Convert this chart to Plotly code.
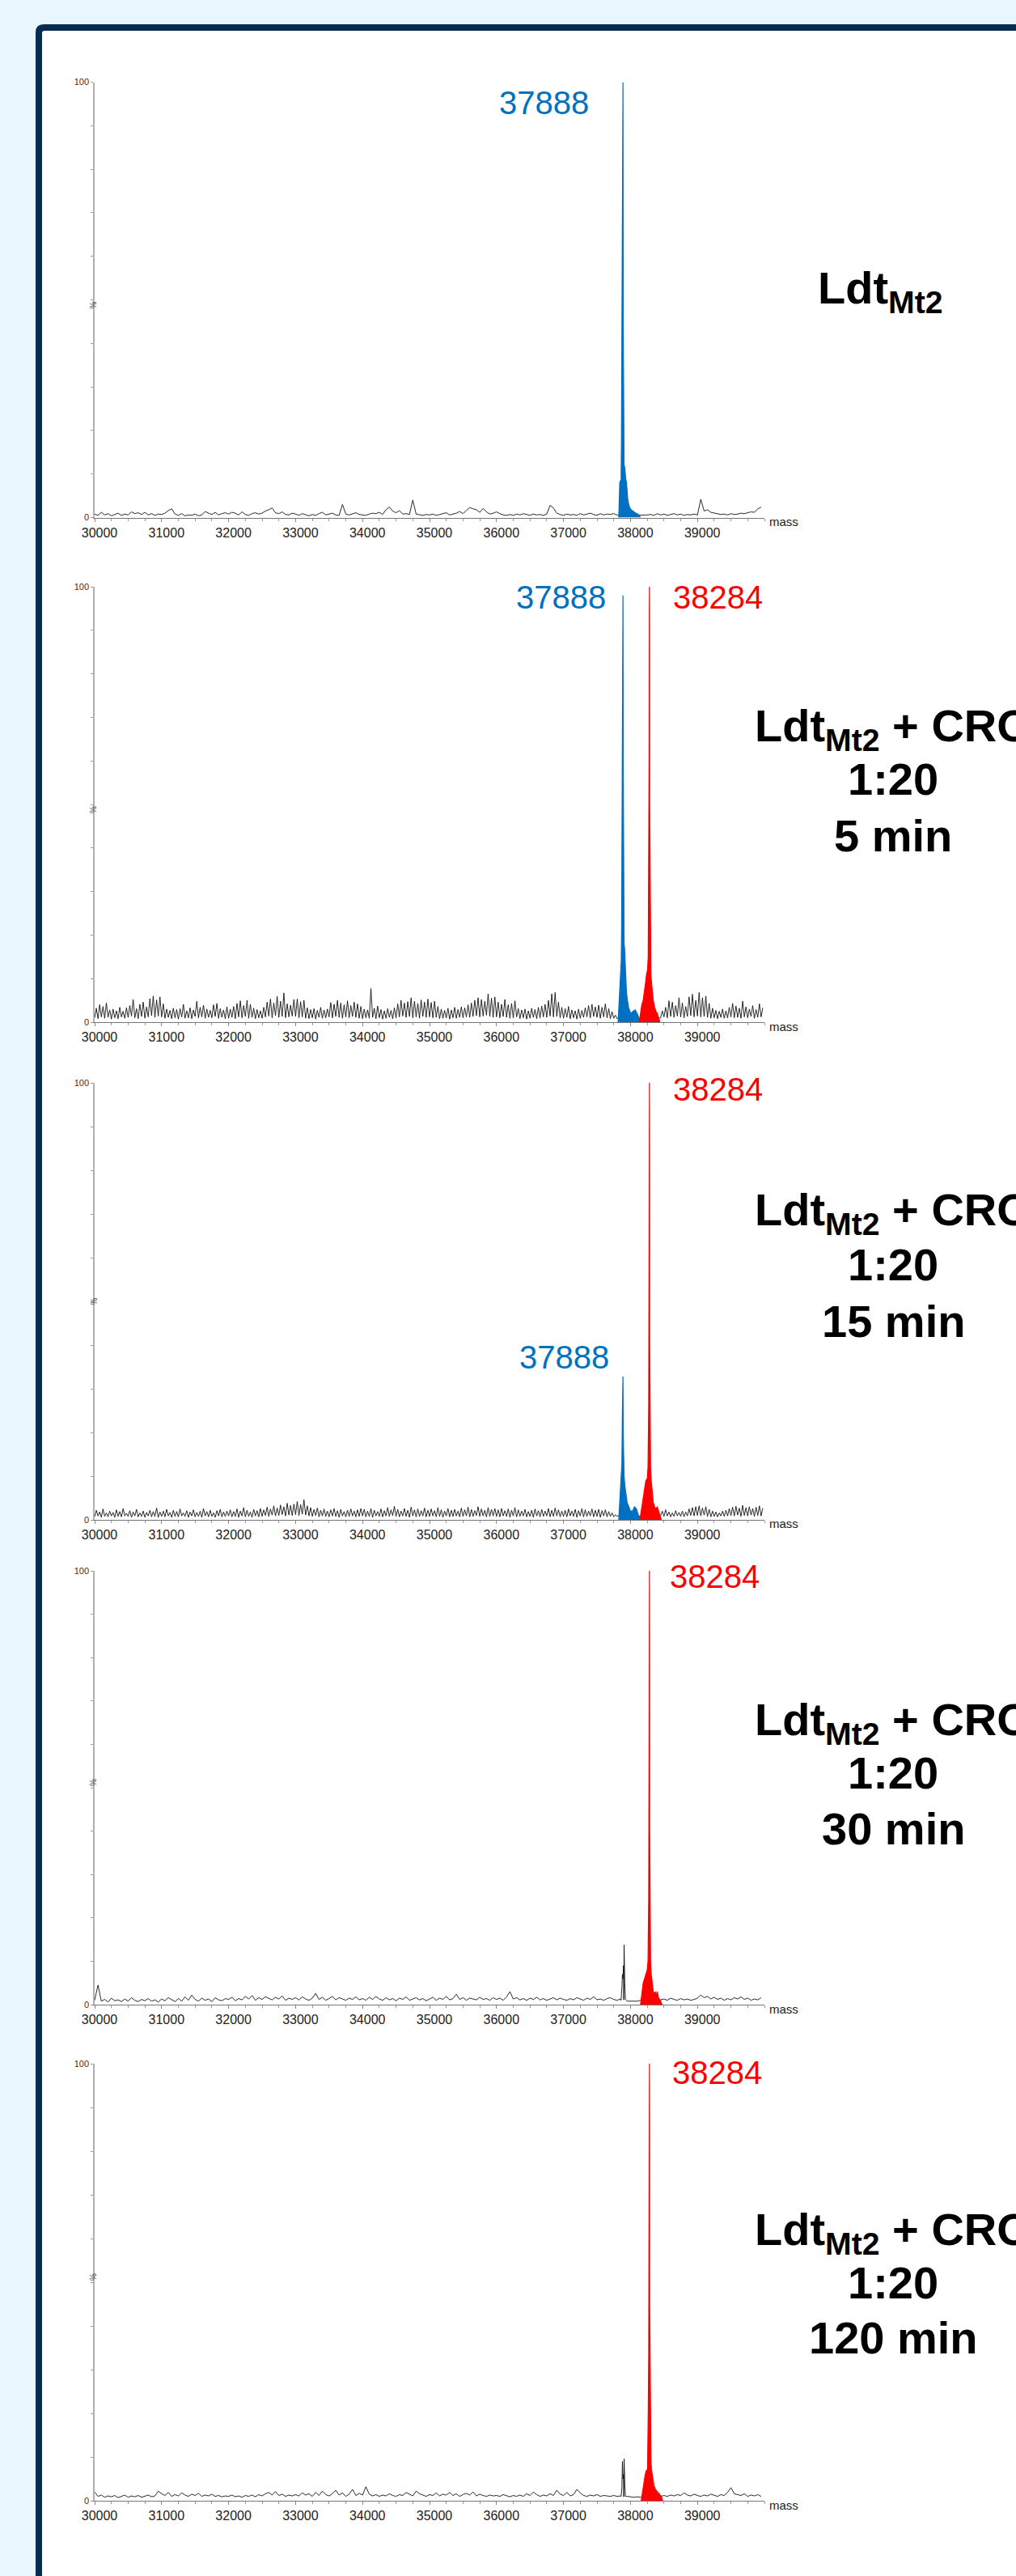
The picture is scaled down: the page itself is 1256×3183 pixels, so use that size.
import plotly.graph_objects as go

# ------------------------------------------------------------------
# DATA
# ------------------------------------------------------------------
NOISE_START = 30000          # first mass of every baseline-noise grid (Da)

x_tick_values = [30000, 31000, 32000, 33000, 34000, 35000, 36000, 37000, 38000, 39000]
x_tick_labels = ["30000", "31000", "32000", "33000", "34000", "35000", "36000", "37000", "38000", "39000"]

# baseline noise (% intensity); panels 1,4,5 one value per 50 Da, panels 2,3 per 25 Da
noise_step_p1 = 50
noise_p1 = [0.8,0.5,1.2,0.6,0.9,0.4,0.7,1.0,0.5,0.8,0.6,1.3,0.9,1.1,0.7,1.2,0.6,0.9,0.5,0.8,
            0.7,1.0,1.6,2.0,0.8,0.5,0.9,0.4,0.6,0.5,0.8,0.4,0.6,1.4,1.0,0.7,1.2,0.6,0.9,1.1,
            0.8,1.2,1.0,0.6,1.3,0.7,0.5,0.9,1.1,0.8,1.0,1.5,1.8,2.2,1.1,0.9,1.3,0.7,0.6,1.0,
            0.8,0.5,0.9,0.6,0.4,0.7,0.5,0.9,1.2,0.6,0.8,1.0,0.6,0.5,3.0,0.8,0.6,0.9,1.1,0.7,
            0.6,0.5,0.8,1.0,0.9,1.2,0.7,1.8,2.4,1.5,1.1,1.6,0.8,0.9,0.7,4.0,0.8,0.6,0.5,0.7,
            0.6,0.8,0.5,0.7,0.9,1.1,0.6,0.8,1.0,1.4,0.9,1.6,2.3,2.0,1.8,1.2,2.1,1.3,0.8,1.0,
            1.3,0.9,0.6,0.5,0.7,0.5,0.8,0.6,0.9,0.7,0.5,0.8,0.6,0.7,0.5,0.8,2.8,2.2,1.0,0.7,
            0.5,0.8,0.6,0.7,0.5,0.9,0.6,0.8,1.0,0.7,0.5,0.9,0.6,0.8,0.7,0.9,0.6,0.5,0.6,0.5,
            0.5,0.6,0.5,0.6,0.5,0.6,0.7,0.5,0.9,0.6,0.8,0.5,0.7,0.9,0.6,0.8,0.5,0.7,0.6,0.8,
            0.6,4.2,1.5,1.8,1.2,1.0,0.9,0.7,0.8,0.6,0.9,0.7,0.8,1.0,0.9,1.1,1.3,1.2,2.0,2.4]

noise_step_p2 = 25
noise_p2 = [1.0,3.2,0.8,4.0,1.2,3.6,0.9,4.4,1.1,2.8,
            0.7,3.0,1.0,2.6,0.8,3.4,1.2,2.5,0.9,3.3,
            1.1,3.8,1.4,5.2,1.0,3.1,0.8,4.1,1.3,4.6,
            0.9,3.5,1.2,5.4,1.5,6.0,1.1,5.1,1.4,5.8,
            1.2,4.2,0.9,3.0,1.1,2.7,0.8,3.2,1.0,2.9,
            0.7,3.1,1.2,4.1,0.9,2.6,1.0,3.3,0.8,2.8,
            1.3,4.8,1.0,3.4,1.2,3.9,0.9,3.0,1.1,2.7,
            1.0,4.0,1.3,4.3,0.9,3.1,1.1,2.8,0.8,3.5,
            0.9,3.0,1.1,3.6,0.8,4.3,1.2,4.9,1.0,3.8,
            1.3,5.0,0.9,4.1,1.1,3.2,0.8,2.9,1.0,2.6,
            0.9,3.4,1.2,4.6,1.4,5.3,1.0,4.4,1.5,5.9,
            1.1,4.8,1.3,6.7,1.0,4.2,1.2,3.9,1.4,5.2,
            1.3,5.3,1.0,4.7,1.2,5.0,0.9,3.3,0.8,2.9,
            1.0,3.1,0.7,2.7,1.1,3.4,0.9,2.8,1.0,3.0,
            1.2,4.5,1.0,4.1,1.3,5.0,1.1,4.4,0.9,4.0,
            1.2,4.9,1.0,3.8,1.3,4.6,1.1,4.2,0.9,3.6,
            0.8,3.0,1.0,2.8,0.9,7.7,1.1,3.2,0.8,3.7,
            1.0,2.9,0.7,2.6,0.9,3.1,1.1,2.7,0.8,3.3,
            1.0,4.2,1.2,5.0,1.4,4.4,1.1,4.7,1.3,5.6,
            1.0,4.8,1.2,4.3,0.9,5.1,1.3,4.6,1.1,5.3,
            1.2,4.5,1.0,4.8,1.1,3.6,0.8,3.0,0.9,2.7,
            1.0,3.2,0.7,2.8,1.0,3.4,0.9,2.9,1.1,3.5,
            1.0,3.3,1.2,4.0,1.1,4.4,1.3,5.0,1.5,5.6,
            1.2,5.2,1.4,4.8,1.6,6.5,1.3,5.5,1.1,5.8,
            1.2,4.6,1.0,4.1,1.3,5.2,1.1,4.0,0.9,4.3,
            1.0,4.9,1.2,3.1,0.8,2.8,1.0,3.0,0.7,2.6,
            0.9,3.2,1.1,2.9,0.8,3.4,1.0,3.7,1.2,4.1,
            1.1,5.0,1.4,6.5,1.2,6.8,1.3,4.6,1.0,3.4,
            0.9,3.1,1.1,3.6,0.8,2.8,1.0,2.6,0.7,3.0,
            0.9,2.7,1.1,3.3,1.2,3.8,1.0,4.1,1.3,3.5,
            1.1,3.9,0.9,3.4,1.2,4.2,1.0,3.1,0.8,2.4,
            0.9,1.6,0.8,1.1,0.7,0.9,0.8,1.0,0.7,0.9,
            0.8,0.9,0.7,0.9,0.8,0.9,0.7,0.9,0.8,0.9,
            0.7,0.9,0.8,0.9,0.7,0.9,0.8,0.9,1.0,2.6,
            1.2,3.4,1.0,4.9,1.3,4.6,1.1,3.8,1.4,5.6,
            1.2,4.4,1.0,3.6,1.3,5.8,1.5,6.4,1.2,5.0,
            1.4,6.8,1.2,5.6,1.3,6.0,1.1,4.3,0.9,3.2,
            1.0,2.7,0.8,2.5,1.1,3.0,0.9,2.6,1.0,3.4,
            1.2,4.3,1.0,3.7,1.1,3.2,0.9,4.8,1.2,3.5,
            1.0,3.0,1.3,3.8,0.9,2.9,1.1,4.2,1.2,3.3]

noise_step_p3 = 25
noise_p3 = [0.7,2.2,0.9,1.8,0.6,2.5,0.8,1.6,0.7,2.0,
            0.9,1.7,0.6,2.3,0.8,1.9,0.7,2.6,0.9,1.5,
            0.8,2.1,0.6,1.8,0.9,2.4,0.7,1.6,0.8,2.0,
            0.6,1.7,0.9,2.2,0.7,1.9,0.8,2.7,0.6,1.8,
            0.8,2.0,0.7,2.4,0.9,1.7,0.6,2.2,0.8,1.9,
            0.7,2.5,0.9,1.6,0.8,2.1,0.6,1.8,0.9,2.3,
            0.7,1.7,0.8,2.0,0.6,2.6,0.9,1.9,0.7,2.2,
            0.8,1.6,0.6,2.1,0.9,2.4,0.7,1.8,0.8,2.0,
            0.9,2.3,0.7,1.9,0.8,2.5,0.6,2.0,0.9,2.8,
            0.7,2.2,0.8,1.8,0.6,2.4,0.9,2.1,0.7,2.6,
            0.8,2.3,1.0,2.9,0.8,2.5,1.1,3.2,0.9,2.7,
            1.0,3.4,1.2,3.0,0.9,3.8,1.1,3.3,1.0,3.6,
            1.2,4.2,1.0,3.5,1.3,4.6,1.1,3.2,0.9,2.8,
            0.8,2.4,1.0,2.7,0.7,2.2,0.9,2.5,0.8,2.0,
            0.7,2.3,0.9,2.6,0.8,2.1,0.6,2.4,0.9,1.9,
            0.7,2.2,0.8,2.5,0.9,2.0,0.7,2.3,0.8,2.6,
            0.9,2.4,0.7,2.0,0.8,2.6,0.6,2.2,0.9,1.9,
            0.8,2.5,0.7,2.1,0.9,2.8,0.8,2.3,1.0,3.1,
            0.8,2.4,0.7,2.0,0.9,2.6,0.8,2.2,0.6,2.9,
            0.9,2.3,0.7,2.5,0.8,2.1,0.9,2.7,0.7,2.2,
            0.8,2.5,0.9,2.1,0.7,2.8,0.8,2.3,0.6,2.0,
            0.9,2.6,0.7,2.2,0.8,2.4,0.9,2.0,0.7,2.7,
            0.8,2.3,0.9,2.9,0.7,2.4,0.8,2.1,1.0,3.0,
            0.8,2.5,0.9,2.2,0.7,2.8,0.8,2.4,0.9,2.6,
            0.8,2.3,0.7,2.6,0.9,2.1,0.8,2.5,0.6,2.2,
            0.9,2.8,0.7,2.3,0.8,2.0,0.9,2.4,0.7,1.9,
            0.8,2.2,0.6,2.5,0.9,2.1,0.7,2.4,0.8,2.0,
            0.9,2.6,0.7,2.2,0.8,2.7,0.9,2.3,0.7,2.0,
            0.8,2.2,0.7,2.5,0.9,2.0,0.8,2.4,0.6,2.1,
            0.9,2.6,0.7,2.3,0.8,2.0,0.9,2.5,0.7,2.2,
            0.8,2.4,0.6,2.1,0.9,2.3,0.7,1.9,0.8,1.6,
            0.7,1.2,0.8,1.0,0.7,0.9,0.8,1.0,0.7,0.9,
            0.8,0.9,0.7,0.9,0.8,0.9,0.7,0.9,0.8,0.9,
            0.7,0.9,0.8,0.9,0.7,0.9,0.8,0.9,1.0,2.0,
            0.8,2.3,0.9,1.8,0.7,1.6,0.8,2.1,0.9,1.7,
            0.8,2.0,0.7,1.8,0.9,2.5,1.0,2.8,0.9,3.0,
            1.0,3.2,0.9,2.7,1.1,3.0,0.8,2.4,0.7,2.0,
            0.8,1.8,0.7,1.6,0.9,2.0,0.8,2.2,0.9,2.6,
            1.0,2.9,0.9,3.1,1.1,2.7,0.8,3.3,1.0,2.8,
            0.9,3.0,1.1,2.6,0.8,2.9,1.0,3.2,0.9,2.7]

noise_step_p4 = 50
noise_p4 = [1.0,4.5,0.8,1.2,0.6,1.5,0.9,1.1,0.7,1.3,0.8,1.6,1.0,0.7,1.2,0.9,1.4,0.8,1.1,0.6,
            1.3,0.9,1.6,1.1,0.7,1.4,0.8,1.8,1.0,2.2,1.2,0.8,1.5,1.0,1.3,0.7,1.6,1.1,0.9,1.4,
            1.2,1.7,0.9,1.4,1.1,1.9,1.3,2.1,1.0,1.6,1.2,1.8,1.4,1.1,1.7,1.3,2.0,1.0,1.5,1.2,
            1.6,1.1,1.8,1.3,1.0,1.5,2.6,1.2,1.7,1.0,1.4,1.9,1.1,1.6,1.3,1.0,1.5,1.2,1.8,1.1,
            1.4,1.0,1.7,1.2,1.9,1.3,1.0,1.6,1.1,1.4,0.9,1.5,1.2,1.8,1.0,1.3,1.6,1.1,1.4,0.9,
            1.3,1.7,1.0,1.5,1.2,1.9,1.1,1.4,2.4,1.2,1.6,1.0,1.5,1.3,1.1,1.7,1.2,1.4,1.0,1.6,
            1.2,1.5,1.0,1.8,3.0,1.3,1.6,1.1,1.4,1.0,1.5,1.2,1.7,1.1,1.4,1.0,1.3,1.6,1.1,1.5,
            1.2,1.0,1.4,1.1,1.6,1.3,1.0,1.5,1.2,1.8,1.1,1.3,1.0,1.4,1.6,1.2,1.0,1.3,1.1,0.8,
            0.8,0.9,0.8,1.0,0.9,0.8,1.0,1.2,1.4,1.1,1.3,1.0,1.5,1.2,1.0,1.4,1.1,1.3,1.0,1.2,
            1.5,2.2,1.6,1.9,1.3,1.7,1.2,1.5,1.0,1.4,1.1,1.6,1.3,1.8,1.2,1.5,1.0,1.3,1.1,1.6]

noise_step_p5 = 50
noise_p5 = [2.0,1.0,1.3,0.8,1.1,0.9,1.2,0.7,1.0,1.3,0.8,1.1,0.9,1.2,0.8,1.0,1.3,0.9,1.1,2.2,
            1.6,1.2,1.9,1.0,1.4,1.1,1.8,1.3,1.0,1.5,1.2,1.7,1.0,1.3,1.1,1.5,1.0,1.2,0.9,1.1,
            1.0,1.3,0.9,1.1,0.8,1.2,1.0,1.3,0.9,1.4,1.1,1.6,1.9,1.3,2.1,1.2,1.5,1.0,1.3,1.1,
            1.4,1.1,1.8,1.3,1.6,1.0,1.9,1.2,2.2,1.4,1.1,1.6,2.4,1.3,1.8,1.0,1.5,2.6,1.2,1.7,
            1.3,3.2,1.5,1.1,1.4,1.0,1.3,1.1,1.6,1.2,1.0,1.4,1.2,1.9,1.5,1.1,2.2,1.6,1.3,1.0,
            1.4,1.2,1.8,1.1,1.5,1.3,1.9,1.2,1.6,1.0,1.4,1.7,1.3,2.0,1.1,1.5,1.2,1.0,1.3,1.1,
            1.2,1.0,1.4,1.1,0.9,1.2,1.0,1.3,1.0,1.6,1.2,2.0,1.4,1.0,1.3,1.1,1.6,1.2,2.4,1.5,
            1.2,1.9,1.1,1.4,2.6,1.8,1.2,1.0,1.3,1.1,1.4,1.0,1.2,1.1,1.0,1.2,1.0,1.1,0.9,1.0,
            0.9,0.8,0.9,0.8,0.9,0.8,1.0,0.9,1.1,1.0,1.2,1.0,1.3,1.1,1.4,1.2,1.8,1.3,1.1,1.5,
            1.2,1.0,1.3,1.1,1.5,1.2,1.0,1.4,1.2,1.9,3.0,1.6,1.4,1.2,1.6,1.0,1.3,1.1,1.4,1.0]

# uncoloured (grey) residual peak near 37888 in the late time points
gray_p4_mass = [37860, 37872, 37880, 37888, 37896, 37905, 37915, 37925]
gray_p4_int  = [1.0, 4.0, 7.0, 6.0, 9.0, 13.8, 5.0, 1.2]
gray_p5_mass = [37860, 37872, 37880, 37888, 37896, 37905, 37915, 37925]
gray_p5_int  = [1.0, 3.0, 9.0, 5.0, 6.0, 9.6, 4.0, 1.0]

# apo-enzyme peak (blue, 37888 Da)
blue_p1_mass = [37825,37832,37840,37850,37860,37866,37872,37880,37886,37888,37892,37898,37905,
                37915,37925,37932,37940,37950,37960,37975,37990,38010,38040,38080,38120,38150]
blue_p1_int  = [0,7,8,8.5,8,20,55,85,98,100,45,12,12,11.5,9,8.5,8.3,6,4,3,2.2,1.8,1.4,1,0.7,0]

blue_p2_mass = [37815,37825,37835,37845,37855,37862,37868,37874,37880,37885,37888,37892,37898,37905,
                37912,37920,37930,37940,37955,37970,37990,38010,38040,38070,38100,38130,38150]
blue_p2_int  = [0,3,6,9,12,14,22,40,70,95,98,60,22,18,17,14,10,7,5,3.5,2.5,2,2.5,2.8,2,1,0]

blue_p3_mass = [37825,37835,37845,37855,37865,37872,37880,37885,37888,37892,37898,37905,37915,
                37930,37950,37975,38000,38030,38060,38090,38120,38150]
blue_p3_int  = [0,3,6,8,10,13,25,32,32.8,20,13,10,8,6,4,3,2,2,3,2.5,1,0]

# acyl-enzyme adduct peak (red, 38284 Da)
red_p2_mass = [38130,38150,38170,38190,38210,38225,38240,38255,38265,38272,38278,38282,38284,
               38287,38292,38298,38305,38315,38325,38340,38360,38380,38400,38420,38440]
red_p2_int  = [0,2,4,5,7,9,11,12,15,35,60,95,100,50,35,13,11,9,7,5,3.5,2.5,2,1,0]

red_p3_mass = [38140,38165,38190,38210,38230,38250,38262,38272,38278,38282,38284,38287,38292,
               38300,38310,38325,38340,38360,38380,38400,38420,38440,38460]
red_p3_int  = [0,3,5,7,9,9.4,12,26,60,95,100,40,26,12,9,6,4,3,2.5,3,2,1,0]

red_p4_mass = [38150,38170,38190,38210,38230,38250,38262,38272,38278,38282,38284,38287,38292,
               38300,38310,38325,38340,38355,38370,38385,38400,38420,38445,38470]
red_p4_int  = [0,3,5,6,7,8,10,24.6,60,95,100,40,24,10,7,5,3,2.5,3,2,3,1.5,1,0]

red_p5_mass = [38160,38180,38200,38220,38240,38255,38265,38272,38278,38282,38284,38287,38292,
               38298,38306,38315,38330,38350,38375,38400,38430,38460,38480]
red_p5_int  = [0,2,4,6,7,7,20,33,70,96,100,45,33,20,9,7,5,3.5,2.5,2,1.5,1,0]

peak_mass_apo = 37888
peak_mass_adduct = 38284

# sample titles, one list of lines per panel
title_lines = [
    ["Ldt<sub>Mt2</sub>"],
    ["Ldt<sub>Mt2</sub> + CRO", "1:20", "5 min"],
    ["Ldt<sub>Mt2</sub> + CRO", "1:20", "15 min"],
    ["Ldt<sub>Mt2</sub> + CRO", "1:20", "30 min"],
    ["Ldt<sub>Mt2</sub> + CRO", "1:20", "120 min"],
]

# ------------------------------------------------------------------
# LAYOUT / STYLE
# ------------------------------------------------------------------
W, H = 1256, 3183
BLUE = "#0070C0"
RED = "#FF0000"
NAVY = "#062C4F"
PAGE_BG = "#EAF6FD"
FONT = "Liberation Sans, Arial, sans-serif"

X_LEFT_PX, X_RIGHT_PX = 117, 945
# (top = 100 %, bottom = 0 %) pixel rows of each panel
PANEL_PX = [(101.5, 639.5), (725, 1263), (1338, 1878), (1941, 2477), (2550, 3090)]
# title: centre x and text baselines (px)
TITLE_X = [1088, 1104, 1104, 1104, 1104]
TITLE_BASELINES = [[373], [913, 982, 1052], [1512, 1582, 1652], [2141, 2210, 2279], [2771, 2840, 2908]]
TITLE_SIZE = 56
# peak labels: (mass, colour, anchor, x shift px, y in %)
PEAK_LABELS = [
    [(peak_mass_apo, BLUE, "right", -40, 95.3)],
    [(peak_mass_apo, BLUE, "right", -19, 97.6), (peak_mass_adduct, RED, "left", 27, 97.6)],
    [(peak_mass_adduct, RED, "left", 27, 98.5), (peak_mass_apo, BLUE, "right", -15, 37.2)],
    [(peak_mass_adduct, RED, "left", 23, 98.7)],
    [(peak_mass_adduct, RED, "left", 26, 98.0)],
]


def px_x(p):
    return p / W


def px_y(p):
    return 1 - p / H


panels = [
    dict(noise=noise_p1, step=noise_step_p1, gray=None, blue=(blue_p1_mass, blue_p1_int), red=None),
    dict(noise=noise_p2, step=noise_step_p2, gray=None, blue=(blue_p2_mass, blue_p2_int), red=(red_p2_mass, red_p2_int)),
    dict(noise=noise_p3, step=noise_step_p3, gray=None, blue=(blue_p3_mass, blue_p3_int), red=(red_p3_mass, red_p3_int)),
    dict(noise=noise_p4, step=noise_step_p4, gray=(gray_p4_mass, gray_p4_int), blue=None, red=(red_p4_mass, red_p4_int)),
    dict(noise=noise_p5, step=noise_step_p5, gray=(gray_p5_mass, gray_p5_int), blue=None, red=(red_p5_mass, red_p5_int)),
]

fig = go.Figure()
annotations = []
shapes = []

# page frame: navy border (left/top, rounded corner) with white sheet, cut by the image edge
def frame_path(left, top, r):
    x0, yt = px_x(left), px_y(top)
    return (f"M {x0},-0.05 L {x0},{px_y(top + r)} Q {x0},{yt} {px_x(left + r)},{yt} "
            f"L 1.05,{yt} L 1.05,-0.05 Z")

shapes.append(dict(type="path", xref="paper", yref="paper", layer="below",
                   path=frame_path(44, 30, 10), fillcolor=NAVY, line=dict(width=0)))
shapes.append(dict(type="path", xref="paper", yref="paper", layer="below",
                   path=frame_path(52, 38, 3), fillcolor="white", line=dict(width=0)))

for i, p in enumerate(panels, start=1):
    xa = "x" if i == 1 else f"x{i}"
    ya = "y" if i == 1 else f"y{i}"

    # black spectrum = noise grid (+ any uncoloured peak), sorted by mass
    pts = [(NOISE_START + k * p["step"], v) for k, v in enumerate(p["noise"])]
    if p["gray"]:
        pts += list(zip(p["gray"][0], p["gray"][1]))
    pts.sort()
    fig.add_trace(go.Scatter(x=[a for a, _ in pts], y=[b for _, b in pts], mode="lines",
                             line=dict(color="#111111", width=0.9), xaxis=xa, yaxis=ya,
                             hoverinfo="skip", showlegend=False))
    for key, col in (("blue", BLUE), ("red", RED)):
        if p[key]:
            fig.add_trace(go.Scatter(x=p[key][0], y=p[key][1], mode="lines", fill="tozeroy",
                                     fillcolor=col, line=dict(color=col, width=1.2),
                                     xaxis=xa, yaxis=ya, hoverinfo="skip", showlegend=False))

    top, bot = PANEL_PX[i - 1]
    axname = "" if i == 1 else str(i)
    fig.update_layout(**{
        f"xaxis{axname}": dict(
            domain=[px_x(X_LEFT_PX), px_x(X_RIGHT_PX)], range=[30000, 40000], anchor=ya,
            automargin=False,
            tickmode="array", tickvals=x_tick_values, ticktext=x_tick_labels,
            ticks="outside", ticklen=4, tickwidth=1, tickcolor="#888",
            ticklabelshift=6,
            minor=dict(dtick=250, ticks="outside", ticklen=3, tickcolor="#999", tickwidth=1),
            showline=True, linecolor="#777", linewidth=1,
            showgrid=False, zeroline=False, fixedrange=True,
            tickfont=dict(family=FONT, size=16, color="#222")),
        f"yaxis{axname}": dict(
            domain=[px_y(bot), px_y(top)], range=[0, 100], anchor=xa,
            automargin=False,
            tickmode="array", tickvals=[0, 100], ticktext=["0", "100"],
            ticks="outside", ticklen=3, tickcolor="#999",
            minor=dict(dtick=10, ticks="outside", ticklen=3, tickcolor="#999", tickwidth=1),
            showline=True, linecolor="#b0b0b0", linewidth=1.5,
            showgrid=False, zeroline=False, fixedrange=True,
            tickfont=dict(family=FONT, size=11, color="#333")),
    })

    # "%" y label and "mass" x label
    annotations.append(dict(xref="paper", yref="paper", x=px_x(108), y=px_y((top + bot) / 2),
                            text="%", textangle=-90, showarrow=False,
                            font=dict(family=FONT, size=10, color="#444")))
    annotations.append(dict(xref=xa, yref=ya, x=40000, y=0, xanchor="left", yanchor="middle",
                            xshift=4, yshift=-5, text="mass", showarrow=False,
                            font=dict(family=FONT, size=15, color="#222")))
    # peak mass labels
    for m, col, anc, shift, ypos in PEAK_LABELS[i - 1]:
        annotations.append(dict(xref=xa, yref=ya, x=m, y=ypos, xanchor=anc, yanchor="middle",
                                xshift=shift, text=str(m), showarrow=False,
                                font=dict(family=FONT, size=40, color=col)))
    # sample title, one annotation per line
    for line, base in zip(title_lines[i - 1], TITLE_BASELINES[i - 1]):
        centre = base - (13 if "<sub>" in line else 20)
        annotations.append(dict(xref="paper", yref="paper", x=px_x(TITLE_X[i - 1]), y=px_y(centre),
                                xanchor="center", yanchor="middle",
                                text="<b>" + line.replace("<sub>", "<sub><b>").replace("</sub>", "</b></sub>") + "</b>",
                                showarrow=False,
                                font=dict(family=FONT, size=TITLE_SIZE, color="black")))

fig.update_layout(width=W, height=H, autosize=False,
                  margin=dict(l=0, r=0, t=0, b=0, pad=0),
                  paper_bgcolor=PAGE_BG, plot_bgcolor="rgba(0,0,0,0)",
                  annotations=annotations, shapes=shapes, showlegend=False)

fig.write_html("out.html", config={"displayModeBar": False},
               post_script="document.body.style.margin='0';document.body.style.overflow='hidden';")
